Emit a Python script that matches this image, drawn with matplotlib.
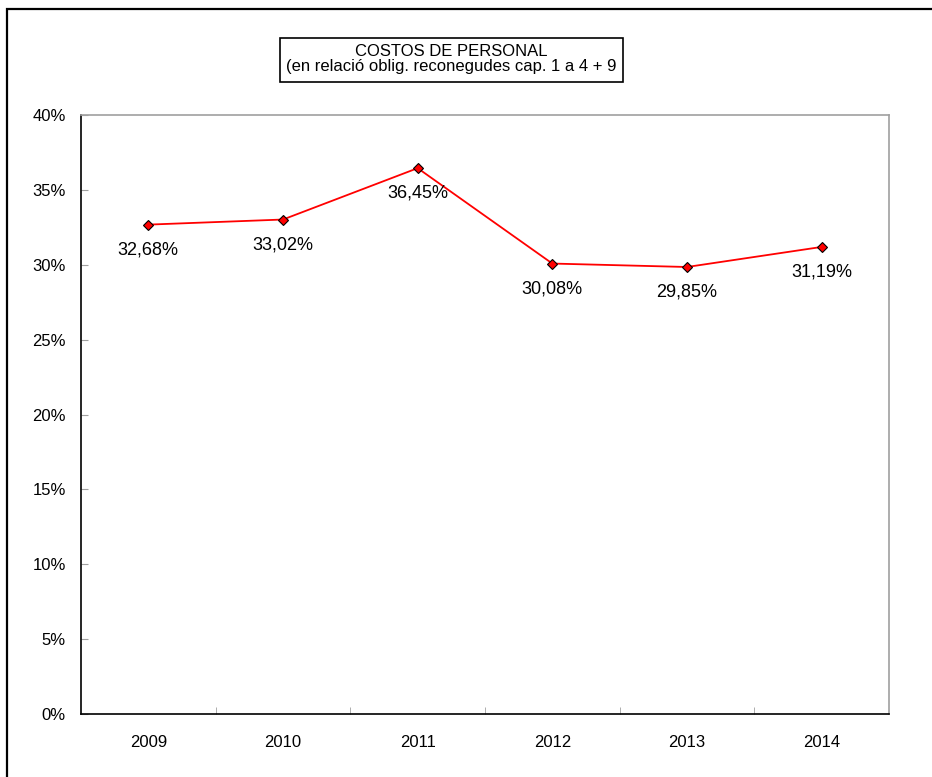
import matplotlib.pyplot as plt
from matplotlib.patches import Rectangle
from matplotlib.ticker import FuncFormatter

plt.rcParams['font.family'] = ['Liberation Sans', 'DejaVu Sans']

# data
years = ['2009', '2010', '2011', '2012', '2013', '2014']
costs = [32.68, 33.02, 36.45, 30.08, 29.85, 31.19]

fig = plt.figure(figsize=(9.32, 7.77), dpi=100)
ax = fig.add_axes([81/932, 1-714/777, 808/932, 599/777])

xs = list(range(len(years)))
ax.plot(xs, costs, color='red', lw=1.3, marker='D', ms=5.5,
        markerfacecolor='red', markeredgecolor='black', markeredgewidth=0.8,
        zorder=3)

for x, v in zip(xs, costs):
    ax.annotate(f"{v:.2f}%".replace('.', ','), (x, v), xytext=(0, -18),
                textcoords='offset points', ha='center', va='center',
                fontsize=13)

ax.set_xlim(-0.5, len(years) - 0.5)
ax.set_ylim(0, 40)
ax.set_yticks(range(0, 41, 5))
ax.yaxis.set_major_formatter(FuncFormatter(lambda v, p: f"{v:.0f}%"))
ax.set_xticks(xs)
ax.set_xticklabels(years)
ax.set_xticks([i + 0.5 for i in xs[:-1]], minor=True)

ax.tick_params(axis='y', direction='in', length=5, color='#a0a0a0',
               labelsize=12, pad=11)
ax.tick_params(axis='x', which='major', length=0, labelsize=12, pad=15)
ax.tick_params(axis='x', which='minor', direction='in', length=5,
               color='#a0a0a0')

ax.spines['left'].set_color('black')
ax.spines['bottom'].set_color('black')
ax.spines['top'].set_color('#a0a0a0')
ax.spines['right'].set_color('#a0a0a0')
for s in ax.spines.values():
    s.set_linewidth(1.2)

# title box
fig.text(451/932, 1-59/777,
         "COSTOS DE PERSONAL\n(en relació oblig. reconegudes cap. 1 a 4 + 9",
         ha='center', va='center', fontsize=12, linespacing=1.0)
fig.patches.append(Rectangle((280/932, 1-82/777), 343/932, 44/777,
                             transform=fig.transFigure, fill=False,
                             edgecolor='black', lw=1.2))

# outer chart frame
fig.patches.append(Rectangle((7/932, -0.05), 1.1, 1.05 - 9/777,
                             transform=fig.transFigure, fill=False,
                             edgecolor='black', lw=1.6))

fig.savefig('out.png', dpi=100)
